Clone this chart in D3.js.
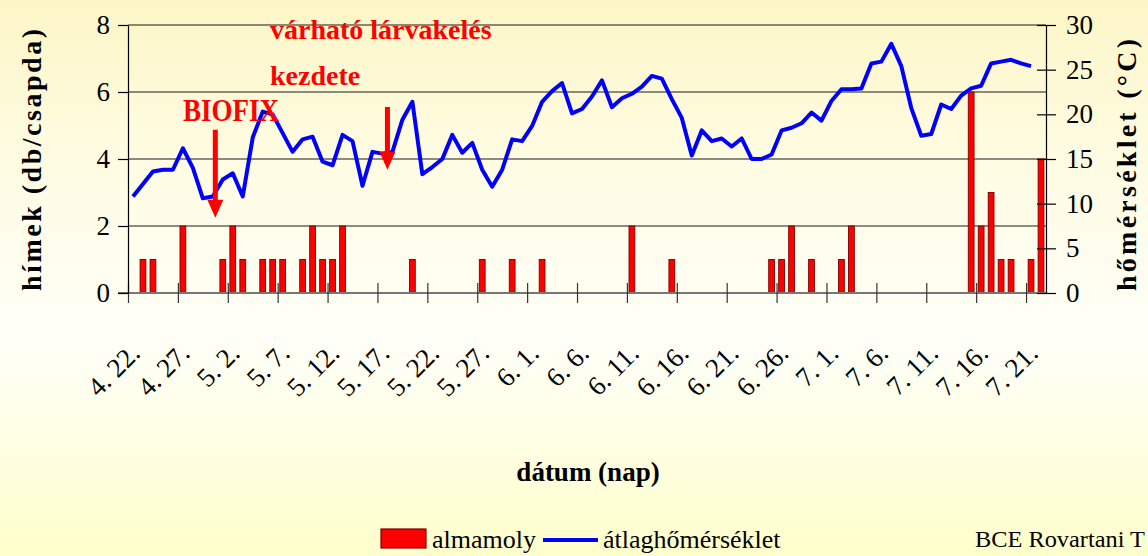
<!DOCTYPE html>
<html><head><meta charset="utf-8">
<script src="https://cdn.jsdelivr.net/npm/d3@7"></script>
<style>html,body{margin:0;padding:0;overflow:hidden;background:#fffff0;} svg{display:block;}</style>
</head><body><svg id="c" width="1148" height="556"></svg>
<script>
// ---------- DATA ----------
const firstDay = new Date(2000, 3, 22);   // 4. 22.
const dayCount = 92;                      // 4. 22. ... 7. 22.
const categories = d3.range(dayCount).map(i => {
  const d = d3.timeDay.offset(firstDay, i);
  return (d.getMonth() + 1) + ". " + d.getDate() + ".";
});
const tickLabels = ["4. 22.", "4. 27.", "5. 2.", "5. 7.", "5. 12.", "5. 17.", "5. 22.", "5. 27.",
  "6. 1.", "6. 6.", "6. 11.", "6. 16.", "6. 21.", "6. 26.", "7. 1.", "7. 6.", "7. 11.", "7. 16.", "7. 21."];
// almamoly (db/csapda), one per day
const moths = [0,1,1,0,0,2,0,0,0,1, 2,1,0,1,1,1,0,1,2,1, 1,2,0,0,0,0,0,0,1,0,
  0,0,0,0,0,1,0,0,1,0, 0,1,0,0,0,0,0,0,0,0, 2,0,0,0,1,0,0,0,0,0,
  0,0,0,0,1,1,2,0,1,0, 0,1,2,0,0,0,0,0,0,0, 0,0,0,0,6,2,3,1,1,0, 1,4];
// átlaghőmérséklet (°C), one per day (no value for the last day)
const temps = [10.8,12.2,13.6,13.8,13.8,16.2,14.0,10.6,10.8,12.7,
  13.4,10.8,17.4,20.3,20.0,17.9,15.8,17.2,17.5,14.7,
  14.3,17.7,17.0,12.0,15.8,15.6,15.8,19.4,21.4,13.3,
  14.1,15.0,17.7,15.7,16.8,13.8,11.9,13.8,17.2,17.0,
  18.7,21.4,22.6,23.5,20.1,20.6,22.0,23.8,20.8,21.8,
  22.3,23.1,24.3,24.0,21.7,19.6,15.4,18.2,17.0,17.3,
  16.4,17.3,15.0,15.0,15.5,18.2,18.5,19.0,20.2,19.3,
  21.5,22.8,22.8,22.9,25.7,25.9,27.9,25.4,20.7,17.6,
  17.8,21.1,20.6,22.1,22.9,23.2,25.7,25.9,26.1,25.7,
  25.4,null];
const leftTicks = [0, 2, 4, 6, 8];
const rightTicks = [0, 5, 10, 15, 20, 25, 30];
// annotation arrows: [day position, top value, tip value] on the left axis
const arrows = [[8.75, 4.87, 2.25], [26.0, 5.55, 3.68]];

// ---------- LAYOUT ----------
const L = 128, R = 1046, T = 25, B = 293;
const serif = "'Liberation Serif','Times New Roman',serif";
const svg = d3.select("#c");

const defs = svg.append("defs");
const bg = defs.append("linearGradient").attr("id", "bg").attr("x1", 0).attr("y1", 0).attr("x2", 0).attr("y2", 1);
[[0, "#fcf6c6"], [0.3, "#fffce4"], [0.62, "#fffff8"], [1, "#ffffcc"]].forEach(s =>
  bg.append("stop").attr("offset", s[0]).attr("stop-color", s[1]));
svg.append("rect").attr("width", 1148).attr("height", 556).attr("fill", "url(#bg)");

const x = d3.scaleBand().domain(categories).range([L, R]).padding(0);
const xEdge = d3.scaleLinear().domain([0, dayCount]).range([L, R]);
const yL = d3.scaleLinear().domain([0, 8]).range([B, T]);
const yR = d3.scaleLinear().domain([0, 30]).range([B, T]);
const bw = x.bandwidth();

// gridlines
svg.append("g").selectAll("line").data(leftTicks.filter(v => v > 0)).join("line")
  .attr("x1", L).attr("x2", R).attr("y1", d => yL(d)).attr("y2", d => yL(d))
  .attr("stroke", "#1a1a1a").attr("stroke-width", 1.2);

// bars
const barW = bw * 0.58;
svg.append("g").selectAll("rect").data(categories.map((c, i) => ({c, v: moths[i]})).filter(d => d.v > 0)).join("rect")
  .attr("x", d => x(d.c) + (bw - barW) / 2).attr("width", barW)
  .attr("y", d => yL(d.v)).attr("height", d => yL(0) - yL(d.v))
  .attr("fill", "#ff0000").attr("stroke", "#7a0000").attr("stroke-width", 0.9);

// x axis
const xAxis = svg.append("g").attr("transform", `translate(0,${B})`)
  .call(d3.axisBottom(xEdge).tickValues(tickLabels.map(l => categories.indexOf(l)))
    .tickFormat(i => categories[i]).tickSizeInner(10).tickSizeOuter(0));
xAxis.select(".domain").attr("stroke", "#777").attr("stroke-width", 2).attr("d", `M${L - 10},0H${R}`);
xAxis.selectAll(".tick line").attr("y1", -10).attr("stroke", "#333").attr("stroke-width", 1.2);
xAxis.selectAll(".tick text").attr("fill", "#000").attr("font-family", serif).attr("font-size", 27)
  .attr("text-anchor", "end").attr("dy", 0).attr("y", 0)
  .attr("transform", "translate(13,62) rotate(-45)");

// left axis
const lAxis = svg.append("g").attr("transform", `translate(${L},0)`)
  .call(d3.axisLeft(yL).tickValues(leftTicks).tickFormat(d3.format("d")).tickSizeInner(10).tickSizeOuter(0).tickPadding(8));
lAxis.select(".domain").attr("stroke", "#000").attr("stroke-width", 1.2);
lAxis.selectAll(".tick line").attr("stroke", "#000").attr("stroke-width", 1.2);
lAxis.selectAll(".tick text").attr("fill", "#000").attr("font-family", serif).attr("font-size", 27);

// right axis
const rAxis = svg.append("g").attr("transform", `translate(${R},0)`)
  .call(d3.axisRight(yR).tickValues(rightTicks).tickFormat(d3.format("d")).tickSizeInner(10).tickSizeOuter(0).tickPadding(10));
rAxis.select(".domain").attr("stroke", "#000").attr("stroke-width", 1.2);
rAxis.selectAll(".tick line").attr("x1", -9).attr("stroke", "#000").attr("stroke-width", 1.2);
rAxis.selectAll(".tick text").attr("fill", "#000").attr("font-family", serif).attr("font-size", 27);

// temperature line
const line = d3.line().defined(d => d.t != null)
  .x(d => x(d.c) + bw / 2).y(d => yR(d.t));
svg.append("path").datum(categories.map((c, i) => ({c, t: temps[i]})))
  .attr("d", line).attr("fill", "none").attr("stroke", "#0000ff")
  .attr("stroke-width", 4).attr("stroke-linejoin", "round");

// arrows
arrows.forEach(([d, top, tip]) => {
  const ax = xEdge(d), y0 = yL(top), y2 = yL(tip), hb = y2 - 18;
  svg.append("path").attr("fill", "#ff0000")
    .attr("d", `M${ax - 2.5},${y0}H${ax + 2.5}V${hb}H${ax + 8}L${ax},${y2}L${ax - 8},${hb}H${ax - 2.5}Z`);
});

// annotation texts
const ann = svg.append("g").attr("fill", "#ff0000").attr("font-family", serif).attr("font-weight", "bold");
ann.append("text").attr("x", 183).attr("y", 121).attr("font-size", 31)
  .attr("textLength", 96).attr("lengthAdjust", "spacingAndGlyphs").text("BIOFIX");
ann.append("text").attr("x", 270).attr("y", 39).attr("font-size", 28).text("várható lárvakelés");
ann.append("text").attr("x", 270).attr("y", 85).attr("font-size", 28).text("kezdete");

// axis titles
svg.append("text").attr("transform", "translate(41,160) rotate(-90)").attr("text-anchor", "middle")
  .attr("font-family", serif).attr("font-weight", "bold").attr("font-size", 28)
  .attr("textLength", 262).attr("lengthAdjust", "spacing").text("hímek (db/csapda)");
svg.append("text").attr("transform", "translate(1136,165) rotate(-90)").attr("text-anchor", "middle")
  .attr("font-family", serif).attr("font-weight", "bold").attr("font-size", 28)
  .attr("textLength", 252).attr("lengthAdjust", "spacing").text("hőmérséklet (°C)");
svg.append("text").attr("x", 588).attr("y", 481).attr("text-anchor", "middle")
  .attr("font-family", serif).attr("font-weight", "bold").attr("font-size", 27).text("dátum (nap)");

// legend
const lg = svg.append("g").attr("font-family", serif).attr("font-size", 26);
lg.append("rect").attr("x", 381).attr("y", 529).attr("width", 45).attr("height", 19)
  .attr("fill", "#ff0000").attr("stroke", "#7a0000").attr("stroke-width", 1.2);
lg.append("text").attr("x", 432).attr("y", 548).text("almamoly");
lg.append("line").attr("x1", 543).attr("x2", 598).attr("y1", 540).attr("y2", 540)
  .attr("stroke", "#0000ff").attr("stroke-width", 4);
lg.append("text").attr("x", 603).attr("y", 548).text("átlaghőmérséklet");

svg.append("text").attr("x", 975).attr("y", 547).attr("font-family", serif).attr("font-size", 23)
  .attr("textLength", 170).attr("lengthAdjust", "spacingAndGlyphs").text("BCE Rovartani T");
</script></body></html>
